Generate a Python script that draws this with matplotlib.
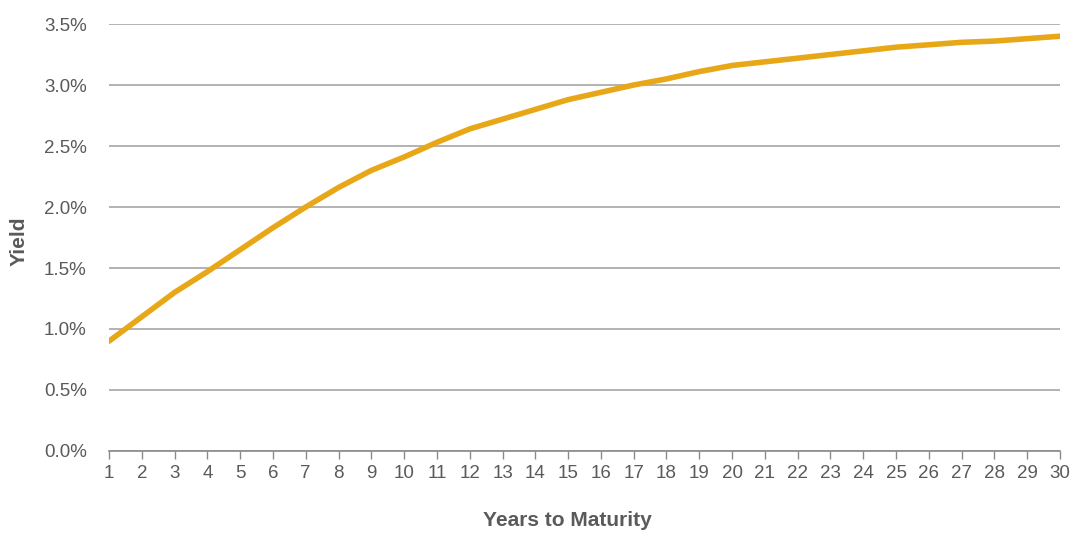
import matplotlib
matplotlib.use("Agg")
import matplotlib.pyplot as plt
from matplotlib import font_manager
from matplotlib.ticker import FuncFormatter

# yield curve, % by years to maturity
years = list(range(1, 31))
yields = [0.90, 1.10, 1.30, 1.47, 1.65, 1.83, 2.00, 2.16, 2.30, 2.41,
          2.53, 2.64, 2.72, 2.80, 2.88, 2.94, 3.00, 3.05, 3.11, 3.16,
          3.19, 3.22, 3.25, 3.28, 3.31, 3.33, 3.35, 3.36, 3.38, 3.40]
yticks = [0.0, 0.5, 1.0, 1.5, 2.0, 2.5, 3.0, 3.5]

GOLD = "#e8a717"
TXT = "#5a5a5a"
GRID = "#a6a6a6"

names = {f.name for f in font_manager.fontManager.ttflist}
FONT = "Liberation Sans Narrow" if "Liberation Sans Narrow" in names else "Liberation Sans"
plt.rcParams["font.family"] = [FONT, "DejaVu Sans"]

fig = plt.figure(figsize=(10.79, 5.36), dpi=100)
ax = fig.add_axes([0.101, 0.1586, 0.8814, 0.7966])

ax.plot(years, yields, color=GOLD, linewidth=4, solid_capstyle="round", zorder=3)

ax.set_xlim(1, 30)
ax.set_ylim(0, 3.5)
ax.set_xticks(years)
ax.set_yticks(yticks)
ax.yaxis.set_major_formatter(FuncFormatter(lambda v, p: f"{v:.1f}%"))
ax.grid(axis="y", color=GRID, linewidth=1.2, zorder=0)
ax.set_axisbelow(True)

for s in ["top", "right", "left"]:
    ax.spines[s].set_visible(False)
ax.spines["bottom"].set_color("#8a8a8a")
ax.spines["bottom"].set_linewidth(1.2)

ax.tick_params(axis="x", direction="out", length=6, width=1, color="#8a8a8a",
               labelsize=13.5, labelcolor=TXT, pad=4)
ax.tick_params(axis="y", length=0, labelsize=13.5, labelcolor=TXT, pad=16)

fig.text(0.018, 0.55, "Yield", rotation=90, ha="center", va="center",
         fontsize=15, fontweight="bold", color=TXT)
fig.text(0.526, 0.028, "Years to Maturity", ha="center", va="center",
         fontsize=15, fontweight="bold", color=TXT)

fig.savefig("out.png", dpi=100)
